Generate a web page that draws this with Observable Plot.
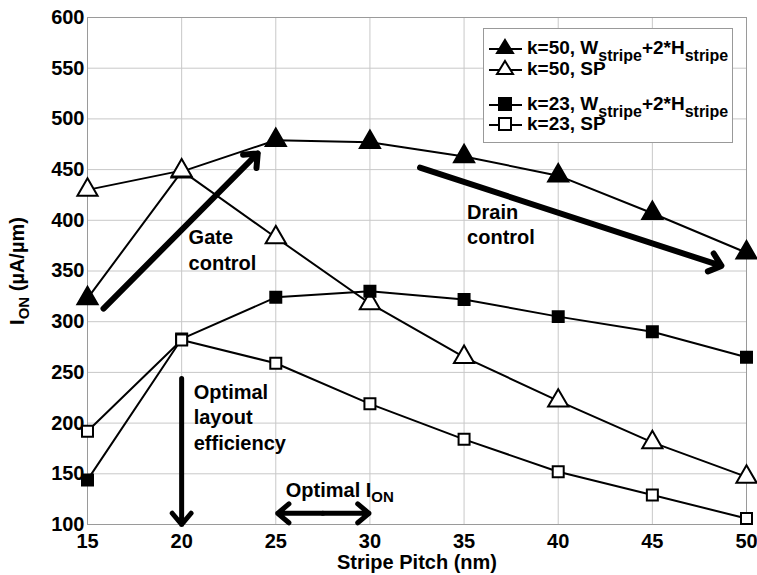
<!DOCTYPE html>
<html>
<head>
<meta charset="utf-8">
<script src="https://cdn.jsdelivr.net/npm/d3@7"></script>
<script src="https://cdn.jsdelivr.net/npm/@observablehq/plot@0.6"></script>
<style>
  body { margin: 0; background: #fff; font-family: "Liberation Sans", Arial, sans-serif; }
  #wrap { position: relative; width: 757px; height: 575px; }
  #legend { position: absolute; left: 483px; top: 28px; width: 250px; height: 115px;
    border: 1px solid #999; background: #fff; box-sizing: border-box;
    font-weight: bold; font-size: 19px; color: #000; }
  #legend .row { position: absolute; left: 4px; height: 22px; display: flex; align-items: center; white-space: nowrap; }
  #legend .row svg { margin-right: 4px; }
  #legend sub { font-size: 16px; vertical-align: -7px; line-height: 0; }
</style>
</head>
<body>
<div id="wrap"></div>
<script>
const pitch = [15, 20, 25, 30, 35, 40, 45, 50];
const k50W  = [323, 448, 479, 477, 463, 444, 407, 368];
const k50SP = [430, 449, 383, 318, 265, 222, 181, 147];
const k23W  = [144, 283, 324, 330, 322, 305, 290, 265];
const k23SP = [192, 282, 259, 219, 184, 152, 129, 106];

const seriesNames = ["k=50, W_{stripe}+2*H_{stripe}", "k=50, SP", "k=23, W_{stripe}+2*H_{stripe}", "k=23, SP"];
const seriesValues = [k50W, k50SP, k23W, k23SP];
const seriesSymbols = ["triangle", "triangle", "square", "square"];
const seriesFills = ["black", "white", "black", "white"];

const xTicks = [15, 20, 25, 30, 35, 40, 45, 50];
const yTicks = [100, 150, 200, 250, 300, 350, 400, 450, 500, 550, 600];

// annotation arrows (data units)
const arrowX1 = [15.85, 32.66, 20, 27.5, 27.5];
const arrowY1 = [313, 452, 244, 111, 111];
const arrowX2 = [24.04, 48.67, 20, 25.1, 29.95];
const arrowY2 = [466, 355, 100, 111, 111];
const arrowW  = [6, 6, 5, 5, 5];

const noteText = ["Gate\ncontrol", "Drain\ncontrol", "Optimal\nlayout\nefficiency", "Optimal I_{ON}"];
const noteX = [20.37, 35.16, 20.64, 25.53];
const noteY = [372, 397, 207, 135];

const rows = [];
seriesValues.forEach((vals, i) => vals.forEach((v, j) => rows.push({s: i, x: pitch[j], y: v})));
const arrows = arrowX1.map((d, i) => ({x1: d, y1: arrowY1[i], x2: arrowX2[i], y2: arrowY2[i], w: arrowW[i]}));
const notes = noteText.map((t, i) => ({t, x: noteX[i], y: noteY[i]}));

const marks = [
  Plot.gridX(xTicks, {stroke: "#c8c8c8", strokeOpacity: 1}),
  Plot.gridY(yTicks, {stroke: "#c8c8c8", strokeOpacity: 1}),
  Plot.frame({stroke: "#9a9a9a"}),
  Plot.axisX(xTicks, {tickSize: 0, tickPadding: 9, fontSize: 20, fontWeight: "bold",
    label: "Stripe Pitch (nm)", labelAnchor: "center", labelArrow: "none", labelOffset: 44}),
  Plot.axisY(yTicks, {tickSize: 0, tickPadding: 3, fontSize: 20, fontWeight: "bold",
    label: "I_{ON} (µA/µm)", labelAnchor: "center", labelArrow: "none", labelOffset: 78})
];
seriesValues.forEach((vals, i) => {
  const d = rows.filter(r => r.s === i);
  marks.push(Plot.line(d, {x: "x", y: "y", stroke: "black", strokeWidth: 2}));
});
seriesValues.forEach((vals, i) => {
  const d = rows.filter(r => r.s === i);
  marks.push(Plot.dot(d, {x: "x", y: "y", symbol: seriesSymbols[i], fill: seriesFills[i],
    stroke: "black", strokeWidth: 2, r: seriesSymbols[i] === "triangle" ? 7.5 : 6.2}));
});
arrows.forEach(a => marks.push(Plot.arrow([a], {x1: "x1", y1: "y1", x2: "x2", y2: "y2",
  stroke: "black", strokeWidth: a.w, headLength: 22 / a.w, headAngle: 80})));
marks.push(Plot.text(notes, {x: "x", y: "y", text: "t", textAnchor: "start", lineAnchor: "middle",
  fontSize: 20, fontWeight: "bold", lineHeight: 1.28, fill: "black"}));

const chart = Plot.plot({
  width: 757, height: 575,
  marginLeft: 87, marginRight: 11, marginTop: 17, marginBottom: 51,
  x: {domain: [15, 50]},
  y: {domain: [100, 600]},
  style: {fontFamily: "Liberation Sans, Arial, sans-serif", color: "black", background: "white", overflow: "visible"},
  marks
});

// subscripts
d3.select(chart).selectAll("text").each(function() {
  const el = this;
  if (el.querySelector("tspan")) {
    d3.select(el).selectAll("tspan").each(function() { applySub(this); });
  } else applySub(el);
});
function applySub(el) {
  const txt = el.textContent;
  if (!txt.includes("_{")) return;
  el.textContent = "";
  const re = /_\{([^}]*)\}/g;
  let last = 0, m;
  while ((m = re.exec(txt))) {
    if (m.index > last) el.appendChild(document.createTextNode(txt.slice(last, m.index)));
    const ts = document.createElementNS("http://www.w3.org/2000/svg", "tspan");
    ts.setAttribute("baseline-shift", "-30%");
    ts.setAttribute("font-size", "0.75em");
    ts.textContent = m[1];
    el.appendChild(ts);
    last = re.lastIndex;
  }
  if (last < txt.length) el.appendChild(document.createTextNode(txt.slice(last)));
}

const wrap = document.getElementById("wrap");
wrap.appendChild(chart);

// legend
const legend = document.createElement("div");
legend.id = "legend";
const rowCenters = [19, 40, 75, 95];
seriesNames.forEach((name, i) => {
  const row = document.createElement("div");
  row.className = "row";
  row.style.top = (rowCenters[i] - 11) + "px";
  const sym = seriesSymbols[i] === "triangle"
    ? `<polygon points="17,2 25,15 9,15" fill="${seriesFills[i]}" stroke="black" stroke-width="2"/>`
    : `<rect x="11" y="4" width="12" height="12" fill="${seriesFills[i]}" stroke="black" stroke-width="2"/>`;
  row.innerHTML = `<svg width="35" height="20"><line x1="1" y1="11" x2="34" y2="11" stroke="black" stroke-width="2"/>${sym}</svg>` +
    `<span>${name.replace(/_\{([^}]*)\}/g, "<sub>$1</sub>")}</span>`;
  legend.appendChild(row);
});
wrap.appendChild(legend);
</script>
</body>
</html>
